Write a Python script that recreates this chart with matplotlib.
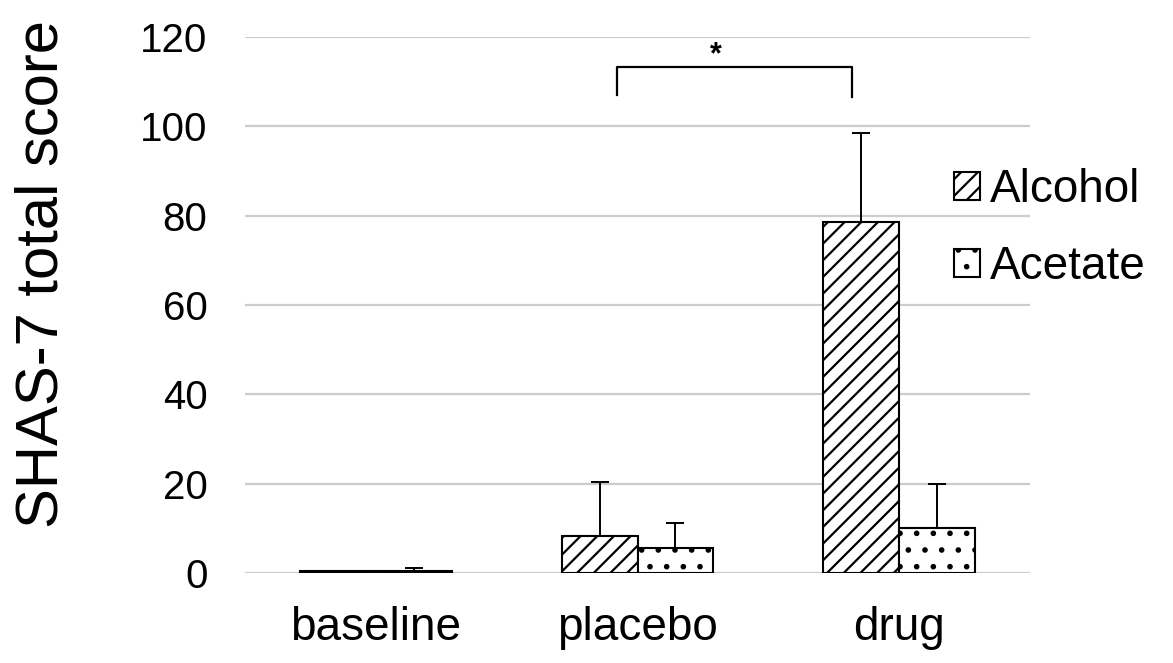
import matplotlib.pyplot as plt
import numpy as np

plt.rcParams['font.family'] = ['Liberation Sans', 'DejaVu Sans']
plt.rcParams['hatch.linewidth'] = 1.6

# data
groups = ["baseline", "placebo", "drug"]
alcohol_mean = [0.5, 8.3, 78.5]
alcohol_err = [0.0, 12.1, 19.9]
acetate_mean = [0.5, 5.6, 10.0]
acetate_err = [0.7, 5.6, 9.9]
y_ticks = [0, 20, 40, 60, 80, 100, 120]

fig = plt.figure(figsize=(11.73, 6.63), dpi=100)
ax = fig.add_axes([0.2089, 0.1357, 0.6692, 0.8085])

x = np.arange(len(groups))
w = 0.29

ax.bar(x - w / 2, alcohol_mean, w, color='white', edgecolor='black',
       linewidth=1.5, hatch='//', label='Alcohol', zorder=2)
ax.bar(x + w / 2, acetate_mean, w, color='white', edgecolor='black',
       linewidth=1.5, hatch='.', label='Acetate', zorder=2)

# upper error bars only
ax.errorbar(x - w / 2, alcohol_mean, yerr=[np.zeros(3), alcohol_err],
            fmt='none', ecolor='black', elinewidth=1.4, capsize=6.5,
            capthick=1.4, zorder=3)
ax.errorbar(x + w / 2, acetate_mean, yerr=[np.zeros(3), acetate_err],
            fmt='none', ecolor='black', elinewidth=1.4, capsize=6.5,
            capthick=1.4, zorder=3)

# significance bracket placebo vs drug
bx0, bx1 = 0.92, 1.82
ax.plot([bx0, bx0, bx1, bx1], [107, 113.3, 113.3, 106.5], color='black',
        linewidth=1.6, clip_on=False, zorder=3)
ax.text(1.30, 116.0, '*', ha='center', va='center', fontsize=22,
        fontweight='bold', zorder=3)

ax.set_xlim(-0.5, 2.5)
ax.set_ylim(0, 120)
ax.set_yticks(y_ticks)
ax.set_xticks(x)
ax.set_xticklabels(groups, fontsize=33)
ax.tick_params(axis='x', length=0, pad=24)
ax.tick_params(axis='y', length=0, pad=27, labelsize=29)

ax.yaxis.grid(True, color='#cccccc', linewidth=1.6)
ax.set_axisbelow(True)
for s in ax.spines.values():
    s.set_visible(False)

fig.text(0.036, 0.587, 'SHAS-7 total score', rotation=90, ha='center',
         va='center', fontsize=43)

fig.legend(loc='center left', bbox_to_anchor=(0.813, 0.655), frameon=False,
           fontsize=33, handlelength=0.57, handleheight=0.55,
           handletextpad=0.22, labelspacing=0.72, borderaxespad=0,
           borderpad=0)

fig.savefig('out.png', dpi=100)
